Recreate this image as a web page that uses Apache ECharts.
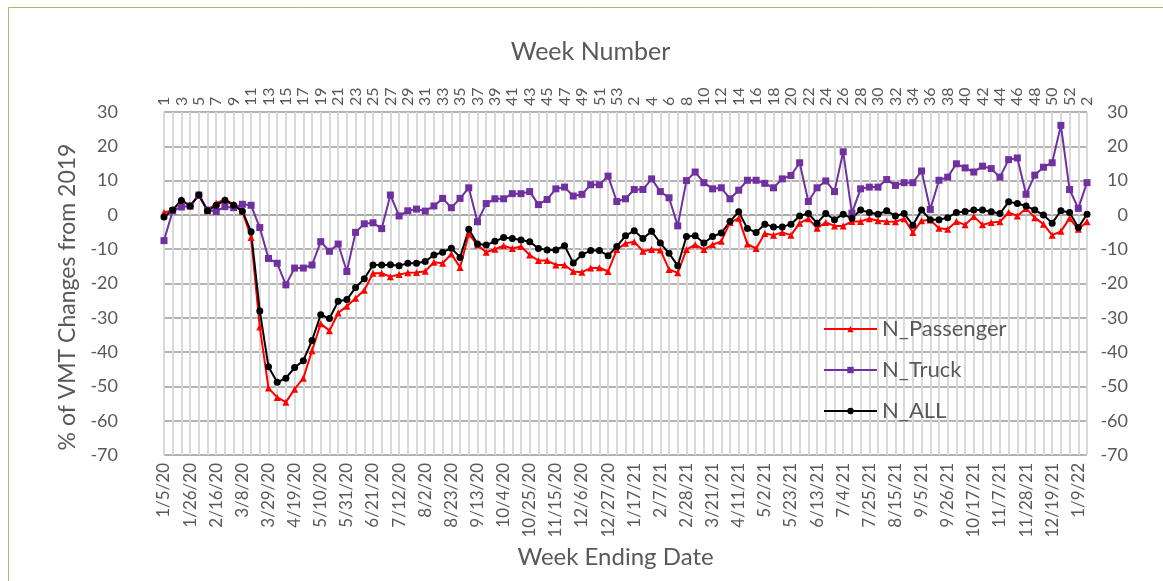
<!DOCTYPE html>
<html>
<head>
<meta charset="utf-8">
<title>VMT Changes from 2019</title>
<script src="https://cdn.jsdelivr.net/npm/echarts@6/dist/echarts.min.js"></script>
<style>
  html, body { margin: 0; padding: 0; background: #fff; }
  #chart { width: 1163px; height: 581px; }
</style>
</head>
<body>
<div id="chart"></div>
<script>
// week ending dates (bottom axis)
var weekEnding = [
  '1/5/20','1/12/20','1/19/20','1/26/20','2/2/20','2/9/20','2/16/20','2/23/20','3/1/20','3/8/20',
  '3/15/20','3/22/20','3/29/20','4/5/20','4/12/20','4/19/20','4/26/20','5/3/20','5/10/20','5/17/20',
  '5/24/20','5/31/20','6/7/20','6/14/20','6/21/20','6/28/20','7/5/20','7/12/20','7/19/20','7/26/20',
  '8/2/20','8/9/20','8/16/20','8/23/20','8/30/20','9/6/20','9/13/20','9/20/20','9/27/20','10/4/20',
  '10/11/20','10/18/20','10/25/20','11/1/20','11/8/20','11/15/20','11/22/20','11/29/20','12/6/20','12/13/20',
  '12/20/20','12/27/20','1/3/21','1/10/21','1/17/21','1/24/21','1/31/21','2/7/21','2/14/21','2/21/21',
  '2/28/21','3/7/21','3/14/21','3/21/21','3/28/21','4/4/21','4/11/21','4/18/21','4/25/21','5/2/21',
  '5/9/21','5/16/21','5/23/21','5/30/21','6/6/21','6/13/21','6/20/21','6/27/21','7/4/21','7/11/21',
  '7/18/21','7/25/21','8/1/21','8/8/21','8/15/21','8/22/21','8/29/21','9/5/21','9/12/21','9/19/21',
  '9/26/21','10/3/21','10/10/21','10/17/21','10/24/21','10/31/21','11/7/21','11/14/21','11/21/21','11/28/21',
  '12/5/21','12/12/21','12/19/21','12/26/21','1/2/22','1/9/22','1/16/22'
];

// week numbers (top axis)
var weekNumber = [
  1,2,3,4,5,6,7,8,9,10,11,12,13,14,15,16,17,18,19,20,21,22,23,24,25,26,27,28,29,30,
  31,32,33,34,35,36,37,38,39,40,41,42,43,44,45,46,47,48,49,50,51,52,53,
  1,2,3,4,5,6,7,8,9,10,11,12,13,14,15,16,17,18,19,20,21,22,23,24,25,26,27,28,29,30,
  31,32,33,34,35,36,37,38,39,40,41,42,43,44,45,46,47,48,49,50,51,52,
  1,2
];

var nPassenger = [
  0.7, 1.3, 4.5, 2.6, 5.8, 1.2, 3.4, 4.5, 3.1, 1.1,
  -6.6, -32.7, -50.5, -53.2, -54.6, -50.8, -47.6, -39.6, -31.7, -33.8,
  -28.6, -26.6, -24.3, -22.0, -17.0, -17.0, -18.0, -17.4, -16.9, -16.8,
  -16.4, -13.8, -14.1, -11.4, -15.3, -5.6, -8.8, -10.9, -10.0, -9.0,
  -9.8, -9.2, -11.7, -13.3, -13.3, -14.6, -14.6, -16.5, -16.7, -15.5,
  -15.4, -16.5, -10.1, -8.3, -7.8, -10.6, -10.1, -10.2, -15.9, -16.9,
  -10.1, -8.7, -10.1, -8.7, -7.7, -2.2, -1.0, -8.5, -9.8, -5.4,
  -5.9, -5.1, -5.9, -2.4, -1.1, -3.9, -2.2, -3.2, -3.2, -1.9,
  -1.9, -1.1, -1.7, -1.9, -2.0, -1.1, -5.1, -1.7, -1.5, -3.9,
  -4.2, -1.9, -2.9, -0.5, -2.9, -2.2, -2.0, 0.7, -0.3, 1.9,
  -0.8, -2.7, -5.9, -4.8, -1.0, -4.2, -2.0
];

var nTruck = [
  -7.5, 1.2, 2.3, 2.6, 5.8, 1.4, 1.0, 2.4, 2.1, 3.1,
  2.8, -3.7, -12.7, -14.1, -20.4, -15.5, -15.5, -14.6, -7.8, -10.6,
  -8.5, -16.5, -5.1, -2.6, -2.3, -4.0, 5.8, -0.3, 1.2, 1.7,
  1.1, 2.6, 4.8, 2.1, 4.8, 7.9, -2.0, 3.3, 4.7, 4.7,
  6.2, 6.2, 6.8, 3.0, 4.5, 7.6, 8.1, 5.5, 6.0, 8.8,
  8.8, 11.3, 3.9, 4.7, 7.4, 7.4, 10.5, 6.8, 5.0, -3.2,
  10.0, 12.5, 9.4, 7.6, 7.9, 4.7, 7.2, 10.1, 10.1, 9.2,
  7.9, 10.5, 11.5, 15.2, 3.9, 7.9, 9.9, 6.8, 18.4, 0.5,
  7.6, 8.1, 8.1, 10.3, 8.6, 9.4, 9.4, 12.8, 1.6, 10.1,
  11.0, 14.9, 13.7, 12.5, 14.2, 13.5, 11.0, 16.1, 16.6, 6.0,
  11.6, 13.9, 15.2, 26.1, 7.4, 1.9, 9.4
];

var nAll = [
  -0.6, 1.4, 4.2, 2.6, 5.8, 1.2, 2.8, 4.3, 2.8, 1.1,
  -4.9, -28.0, -44.3, -48.8, -47.6, -44.5, -42.5, -36.6, -29.1, -30.2,
  -25.2, -24.7, -21.2, -18.6, -14.6, -14.6, -14.5, -14.8, -14.1, -14.1,
  -13.6, -11.7, -10.9, -9.7, -12.4, -4.2, -8.5, -8.8, -7.7, -6.6,
  -6.9, -7.3, -7.8, -9.8, -10.2, -10.2, -9.0, -14.0, -11.6, -10.4,
  -10.4, -11.9, -9.2, -6.1, -4.6, -6.9, -4.8, -8.2, -11.2, -14.8,
  -6.3, -6.1, -8.2, -6.3, -5.3, -1.9, 0.9, -4.0, -5.1, -2.7,
  -3.5, -3.5, -2.7, -0.3, 0.4, -2.4, 0.4, -1.4, 0.2, -1.0,
  1.4, 0.7, 0.2, 1.2, -0.3, 0.4, -3.0, 1.4, -1.4, -1.4,
  -0.8, 0.7, 1.0, 1.4, 1.4, 0.9, 0.4, 3.8, 3.3, 2.6,
  1.4, 0.0, -2.4, 1.2, 0.7, -3.7, 0.2
];

var textColor = '#595959';
var font = 'Lato, "Open Sans", sans-serif';

var chart = echarts.init(document.getElementById('chart'));

var option = {
  backgroundColor: '#fff',
  animation: false,
  textStyle: { fontFamily: font, color: textColor },
  graphic: [{
    type: 'rect',
    shape: { x: 8.5, y: 7.5, width: 1170, height: 590 },
    style: { fill: 'none', stroke: '#b3b36b', lineWidth: 1 },
    silent: true
  }],
  grid: { left: 164, right: 76, top: 112, bottom: 126 },
  legend: {
    orient: 'vertical',
    left: 823,
    top: 318,
    padding: 0,
    itemWidth: 53,
    itemHeight: 8,
    itemGap: 19,
    textStyle: { fontFamily: font, fontSize: 22, color: textColor },
    data: ['N_Passenger', 'N_Truck', 'N_ALL']
  },
  xAxis: [{
    type: 'category',
    position: 'bottom',
    data: weekEnding,
    boundaryGap: false,
    name: 'Week Ending Date',
    nameLocation: 'middle',
    nameGap: 88,
    nameTextStyle: { fontFamily: font, fontSize: 24, color: textColor, padding: [0, 20, 0, 0] },
    axisLine: { lineStyle: { color: '#a6a6a6', width: 1.5 } },
    axisTick: { show: false },
    axisLabel: { interval: 2, rotate: 90, fontSize: 17, color: textColor, margin: 8 },
    splitLine: { show: true, interval: 0, lineStyle: { color: '#d9d9d9', width: 2 } }
  }, {
    type: 'category',
    position: 'top',
    data: weekNumber,
    boundaryGap: false,
    name: 'Week Number',
    nameLocation: 'middle',
    nameGap: 48,
    nameTextStyle: { fontFamily: font, fontSize: 25, color: textColor, padding: [0, 70, 0, 0] },
    axisLine: { show: false },
    axisTick: { show: true, interval: 0, length: 5, lineStyle: { color: '#d9d9d9', width: 2 } },
    axisLabel: { interval: 1, rotate: 90, fontSize: 16, color: textColor, margin: 6 },
    splitLine: { show: false }
  }],
  yAxis: [{
    type: 'value',
    position: 'left',
    min: -70,
    max: 30,
    interval: 10,
    name: '% of VMT Changes from 2019',
    nameLocation: 'middle',
    nameGap: 84,
    nameTextStyle: { fontFamily: font, fontSize: 23, color: textColor, padding: [0, 27, 0, 0] },
    axisLine: { show: false },
    axisTick: { show: false },
    axisLabel: { fontSize: 18, color: textColor, margin: 46 },
    splitLine: { show: true, lineStyle: { color: '#9a9a9a', width: 1.5 } }
  }, {
    type: 'value',
    position: 'right',
    min: -70,
    max: 30,
    interval: 10,
    axisLine: { show: false },
    axisTick: { show: false },
    axisLabel: { fontSize: 18, color: textColor, margin: 41, align: 'right' },
    splitLine: { show: false }
  }],
  series: [{
    name: 'N_Passenger',
    type: 'line',
    data: nPassenger,
    symbol: 'triangle',
    symbolSize: 7,
    showAllSymbol: true,
    itemStyle: { color: '#ff0000' },
    lineStyle: { color: '#ff0000', width: 2 }
  }, {
    name: 'N_Truck',
    type: 'line',
    data: nTruck,
    symbol: 'rect',
    symbolSize: 7,
    showAllSymbol: true,
    itemStyle: { color: '#7030a0' },
    lineStyle: { color: '#7030a0', width: 2 }
  }, {
    name: 'N_ALL',
    type: 'line',
    data: nAll,
    symbol: 'circle',
    symbolSize: 7,
    showAllSymbol: true,
    itemStyle: { color: '#000000' },
    lineStyle: { color: '#000000', width: 2 }
  }]
};

chart.setOption(option);
</script>
</body>
</html>
